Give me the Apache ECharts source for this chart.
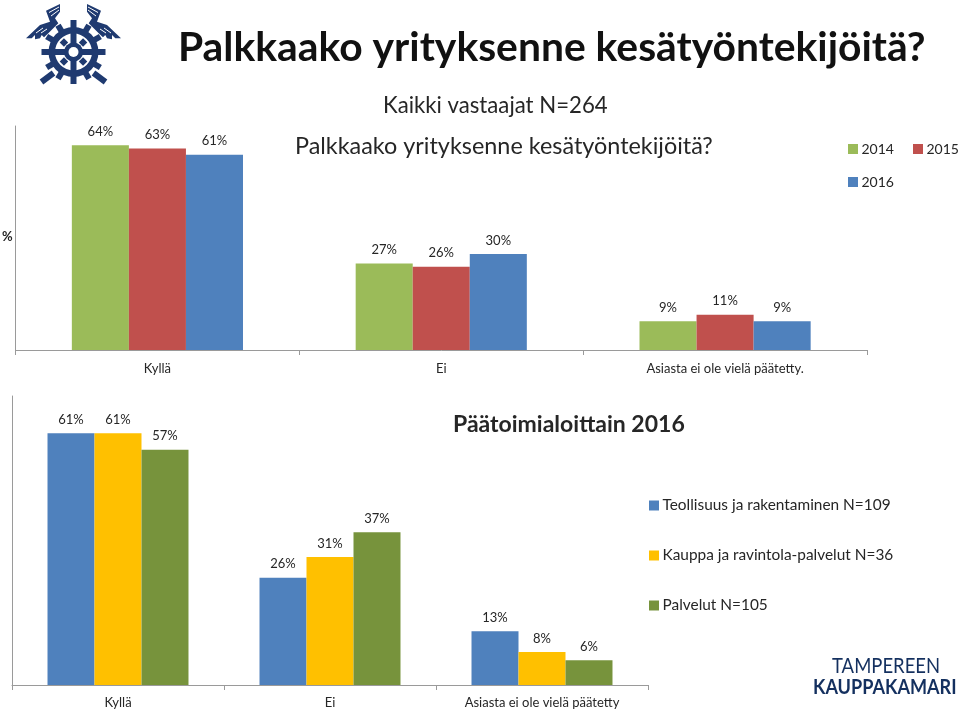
<!DOCTYPE html>
<html>
<head>
<meta charset="utf-8">
<style>html,body{margin:0;padding:0;background:#fff}#c{width:960px;height:710px}</style>
<script src="https://cdn.jsdelivr.net/npm/echarts@6/dist/echarts.min.js"></script>
</head>
<body>
<div id="c"></div>
<script>
const topCategories = ['Kyllä', 'Ei', 'Asiasta ei ole vielä päätetty.'];
const topNames = ['2014', '2015', '2016'];
const values2014 = [64, 27, 9];
const values2015 = [63, 26, 11];
const values2016 = [61, 30, 9];
const bottomCategories = ['Kyllä', 'Ei', 'Asiasta ei ole vielä päätetty'];
const bottomNames = ['Teollisuus ja rakentaminen N=109', 'Kauppa ja ravintola-palvelut N=36', 'Palvelut N=105'];
const valuesIndustry = [61, 26, 13];
const valuesTrade = [61, 31, 8];
const valuesServices = [57, 37, 6];

const FONT = 'Lato, "Open Sans", sans-serif';
const TXT = '#262626';
const AX = '#9a9a9a';

function bar(name, data, color, idx) {
  return {
    name, type: 'bar', data, xAxisIndex: idx, yAxisIndex: idx,
    barGap: 0, barCategoryGap: idx === 0 ? '39.7%' : '33.5%',
    itemStyle: { color },
    label: { show: true, position: 'top', distance: 7, formatter: '{c}%', fontFamily: FONT, fontSize: 13, color: TXT }
  };
}
function xAxis(data, idx, margin) {
  return {
    type: 'category', gridIndex: idx, data,
    axisLine: { lineStyle: { color: AX, width: 1 } },
    axisTick: { show: true, length: 5, alignWithLabel: false, lineStyle: { color: AX } },
    axisLabel: { margin, interval: 0, fontFamily: FONT, fontSize: 13, color: TXT }
  };
}
function yAxis(idx) {
  return {
    type: 'value', gridIndex: idx, min: 0, max: 70, interval: 70,
    axisLine: { show: true, lineStyle: { color: AX, width: 1 } },
    axisTick: { show: false }, axisLabel: { show: false }, splitLine: { show: false }
  };
}
function txt(text, x, y, size, weight, extra, sx) {
  return { type: 'text', x, y, scaleX: sx || 1, style: Object.assign({ text, fontFamily: FONT, fontSize: size, fontWeight: weight || 'normal', fill: TXT, textVerticalAlign: 'middle' }, extra || {}) };
}

const LOGO = '#1f3a70';
const cx = 73.5, cy = 52;
function rrect(w, h, dist, deg) {
  const a = deg * Math.PI / 180;
  return { type: 'rect', x: cx + dist * Math.sin(a), y: cy - dist * Math.cos(a), rotation: -a,
    shape: { x: -w / 2, y: -h / 2, width: w, height: h }, style: { fill: LOGO } };
}
function wing(m) {
  const f = p => p.map(q => [m ? 2 * cx - q[0] : q[0], q[1]]);
  const els = [{ type: 'polygon', shape: { points: f([[60, 4], [46, 10.7], [50, 21.7], [40, 25], [26, 38.3], [31.7, 38.3], [35, 35], [35, 39.3], [40, 38.3], [41.7, 35], [44, 37.3], [48.3, 33.3], [53.3, 28.3], [58.3, 23.3], [55, 18.3], [60, 11.7]]) }, style: { fill: LOGO } }];
  [[[59, 7], [49, 12.5]], [[59, 10], [51, 16]], [[36, 33], [43, 28]], [[41, 33], [47, 29]]].forEach(l => {
    const p = f(l);
    els.push({ type: 'line', shape: { x1: p[0][0], y1: p[0][1], x2: p[1][0], y2: p[1][1] }, style: { stroke: '#fff', lineWidth: 1 } });
  });
  return els;
}
function logoParts() {
  const parts = [];
  parts.push(...wing(false), ...wing(true));
  [30, 60, 120, 150, 210, 240, 300, 330].forEach(d => parts.push(rrect(6, 8, 27, d)));
  parts.push({ type: 'ring', shape: { cx, cy, r: 25, r0: 18.5 }, style: { fill: LOGO } });
  parts.push(rrect(6, 64, 0, 0), rrect(64, 6, 0, 0));
  parts.push({ type: 'circle', shape: { cx, cy, r: 9.5 }, style: { fill: LOGO } });
  parts.push({ type: 'circle', shape: { cx, cy, r: 5 }, style: { fill: '#fff' } });
  [45, 135, 225, 315].forEach(d => {
    const r = rrect(6, 6, 13.5, d); r.rotation = Math.PI / 4; parts.push(r);
  });
  [-1, 1].forEach(s => {
    parts.push({ type: 'line', shape: { x1: cx + s * 20, y1: cy + 21, x2: cx + s * 32, y2: cy + 30 },
      style: { stroke: LOGO, lineWidth: 6 } });
  });
  return parts;
}

const chart = echarts.init(document.getElementById('c'), null, { renderer: 'canvas' });
chart.setOption({
  animation: false,
  backgroundColor: '#fff',
  textStyle: { fontFamily: FONT },
  grid: [
    { left: 15.5, right: 93, top: 126, height: 224 },
    { left: 12, right: 312, top: 396, height: 289 }
  ],
  xAxis: [xAxis(topCategories, 0, 12), xAxis(bottomCategories, 1, 11)],
  yAxis: [yAxis(0), yAxis(1)],
  legend: [
    {
      data: topNames, left: 848, top: 142, width: 125, itemWidth: 10, itemHeight: 10, itemGap: 19,
      icon: 'rect', padding: 0, textStyle: { fontFamily: FONT, fontSize: 14, color: TXT, padding: [0, 0, 0, -1.5] }
    },
    {
      data: bottomNames, orient: 'vertical', left: 649, top: 498, itemWidth: 10, itemHeight: 10, itemGap: 35,
      icon: 'rect', padding: 0, textStyle: { fontFamily: FONT, fontSize: 15.4, color: TXT, padding: [0, 0, 0, -1.5] }
    }
  ],
  series: [
    bar(topNames[0], values2014, '#9bbb59', 0),
    bar(topNames[1], values2015, '#c0504d', 0),
    bar(topNames[2], values2016, '#4f81bd', 0),
    bar(bottomNames[0], valuesIndustry, '#4f81bd', 1),
    bar(bottomNames[1], valuesTrade, '#ffc000', 1),
    bar(bottomNames[2], valuesServices, '#77933c', 1)
  ],
  graphic: { elements: [
    { type: 'group', children: logoParts() },
    txt('Palkkaako yrityksenne kesätyöntekijöitä?', 178, 48, 40.8, 'bold', { fill: '#111' }),
    txt('Kaikki vastaajat N=264', 383, 106, 22.2),
    txt('Palkkaako yrityksenne kesätyöntekijöitä?', 295, 146, 23.4),
    txt('Päätoimialoittain 2016', 453, 425, 23, 'bold'),
    txt('%', 2, 237, 13, 'bold'),
    txt('TAMPEREEN', 832, 666, 21, 'normal', { fill: '#14305f' }, 0.88),
    txt('KAUPPAKAMARI', 813, 687, 21, 'bold', { fill: '#14305f' }, 0.86)
  ] }
});
</script>
</body>
</html>
